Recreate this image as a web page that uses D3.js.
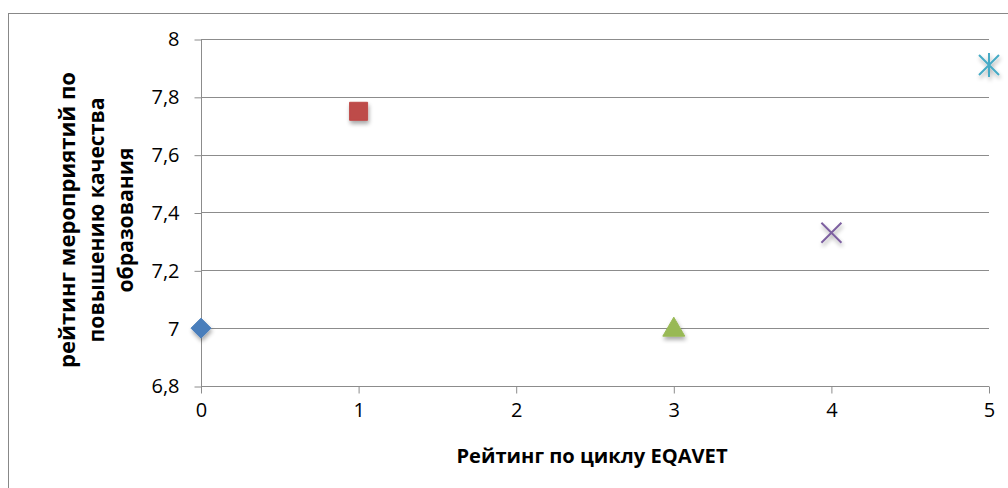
<!DOCTYPE html>
<html>
<head>
<meta charset="utf-8">
<script src="https://cdn.jsdelivr.net/npm/d3@7"></script>
<style>
  body { margin: 0; background: #fff; }
  text { font-family: "Open Sans", sans-serif; }
</style>
</head>
<body>
<svg width="1008" height="488"></svg>
<script>
// scores per point, one marker style each
var xValues = [0, 1, 3, 4, 5];
var yValues = [7, 7.75, 7, 7.33, 7.91];
var markerKinds = ["diamond", "square", "triangle", "x", "star"];
var markerColors = ["#4A7EBB", "#BE4B48", "#98B954", "#7D60A0", "#46AAC5"];
var xTicks = [0, 1, 2, 3, 4, 5];
var yTicks = [6.8, 7, 7.2, 7.4, 7.6, 7.8, 8];
var xTitle = "Рейтинг по циклу EQAVET";
var yTitle = ["рейтинг мероприятий по", "повышению качества", "образования"];

var svg = d3.select("svg");

// outer chart frame (runs off the picture on right and bottom)
svg.append("rect").attr("x", 8.5).attr("y", 13.5).attr("width", 1010).attr("height", 490)
    .attr("fill", "none").attr("stroke", "#888").attr("stroke-width", 1);

var x = d3.scaleLinear().domain([0, 5]).range([201, 989]);
var y = d3.scaleLinear().domain([6.8, 8]).range([386, 39]);
var fmt = function(d) { return String(d).replace(".", ","); };

// gridlines
svg.append("g").selectAll("line").data(yTicks.filter(function(d) { return d > 6.8; })).enter().append("line")
    .attr("x1", x(0)).attr("x2", x(5))
    .attr("y1", function(d) { return Math.round(y(d)) + 0.5; })
    .attr("y2", function(d) { return Math.round(y(d)) + 0.5; })
    .attr("stroke", "#8c8c8c").attr("stroke-width", 1);

// axes
var yAxis = d3.axisLeft(y).tickValues(yTicks).tickFormat(fmt).tickSize(7).tickPadding(15);
var gy = svg.append("g").attr("transform", "translate(" + (x(0) + 0.5) + ",0.5)").call(yAxis);
var xAxis = d3.axisBottom(x).tickValues(xTicks).tickFormat(fmt).tickSize(7).tickPadding(9);
var gx = svg.append("g").attr("transform", "translate(0," + (y(6.8) + 0.5) + ")").call(xAxis);
[gx, gy].forEach(function(g) {
    g.attr("font-size", 20).attr("font-family", "\"Open Sans\", sans-serif");
    g.select(".domain").attr("stroke", "#8c8c8c");
    g.selectAll(".tick line").attr("stroke", "#8c8c8c");
    g.selectAll(".tick text").attr("fill", "#000");
});
gy.select(".domain").attr("d", "M0," + y(8) + "V" + y(6.8));
gx.select(".domain").attr("d", "M" + x(0) + ",0H" + x(5));

// shadow filter for markers
var defs = svg.append("defs");
var f = defs.append("filter").attr("id", "sh").attr("x", "-50%").attr("y", "-50%").attr("width", "200%").attr("height", "200%");
f.append("feGaussianBlur").attr("in", "SourceAlpha").attr("stdDeviation", 2);
f.append("feOffset").attr("dx", 1).attr("dy", 3).attr("result", "o");
f.append("feComponentTransfer").append("feFuncA").attr("type", "linear").attr("slope", 0.35);
var m = f.append("feMerge");
m.append("feMergeNode");
m.append("feMergeNode").attr("in", "SourceGraphic");

function markerPath(kind) {
    if (kind == "diamond") return "M0,-10L10,0L0,10L-10,0Z";
    if (kind == "square") return "M-9,-9H9V9H-9Z";
    if (kind == "triangle") return "M0,-11L11,8H-11Z";
    if (kind == "x") return "M-10,-10L10,10M10,-10L-10,10";
    return "M-10,-10L10,10M10,-10L-10,10M0,-12V12";
}

svg.append("g").selectAll("path").data(xValues).enter().append("path")
    .attr("transform", function(d, i) { return "translate(" + x(d) + "," + y(yValues[i]) + ")"; })
    .attr("d", function(d, i) { return markerPath(markerKinds[i]); })
    .attr("filter", "url(#sh)")
    .attr("fill", function(d, i) { return (markerKinds[i] == "x" || markerKinds[i] == "star") ? "none" : markerColors[i]; })
    .attr("stroke", function(d, i) { return markerColors[i]; })
    .attr("stroke-width", function(d, i) { return (markerKinds[i] == "x" || markerKinds[i] == "star") ? 2 : 1; });

// shrink or grow a text node so that it is about the wanted width
function fitWidth(node, want) {
    var fs = parseFloat(d3.select(node).attr("font-size"));
    var w = node.getComputedTextLength();
    d3.select(node).attr("font-size", (fs * want / w).toFixed(2));
}

// axis titles
var xt = svg.append("text").attr("x", 592).attr("y", 463).attr("text-anchor", "middle")
    .attr("font-size", 18).attr("font-weight", "bold").text(xTitle);
fitWidth(xt.node(), 271);

var yLens = [296, 245, 145];
var yBase = [75, 104, 133];
yTitle.forEach(function(line, i) {
    var t = svg.append("text").attr("transform", "translate(" + yBase[i] + ",220) rotate(-90)")
        .attr("text-anchor", "middle").attr("font-size", 18).attr("font-weight", "bold").text(line);
    fitWidth(t.node(), yLens[i]);
});
</script>
</body>
</html>
